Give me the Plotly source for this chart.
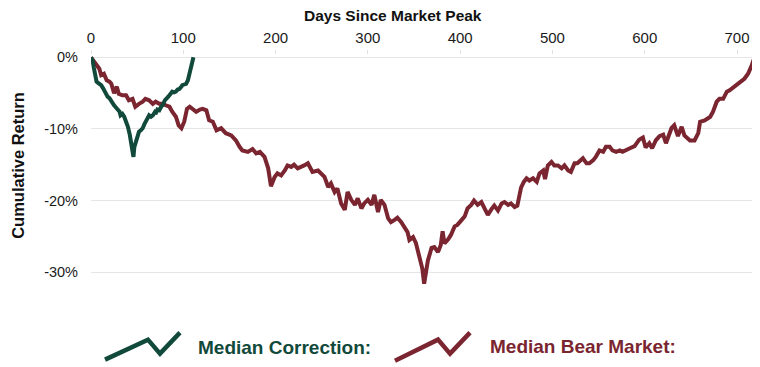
import plotly.graph_objects as go

# ---- data (cumulative return, %) ----
corr_days = [0, 2, 3, 5, 6, 8, 11, 13, 14, 16, 18, 20, 22, 24, 25, 27, 29, 31, 32, 34, 36, 38, 40, 42, 43, 45, 46,
             47, 49, 51, 52, 54, 56, 58, 59, 61, 63, 65, 67, 69, 70, 72, 74, 76, 78, 80, 81, 83, 85, 87, 88, 90, 92,
             94, 96, 98, 99, 101, 103, 105, 106, 108, 109, 110, 111]
corr_vals = [0, -0.6, -1.4, -2.6, -3.4, -3.6, -3.9, -4.3, -4.6, -5.0, -5.5, -5.7, -6.2, -6.4, -6.7, -7.0, -7.4, -7.6,
             -8.1, -7.9, -8.3, -9.0, -9.7, -10.8, -11.6, -13.2, -13.9, -12.5, -11.6, -10.8, -10.4, -10.2, -9.9, -9.3,
             -9.0, -8.4, -8.1, -8.3, -8.1, -7.7, -7.9, -7.3, -7.4, -6.9, -6.6, -6.0, -5.8, -5.6, -5.3, -5.0, -4.8,
             -4.9, -4.8, -4.5, -4.4, -4.1, -3.9, -3.8, -3.7, -3.2, -2.7, -1.8, -1.3, -0.6, 0]

bear_days = [0, 2, 5, 9, 11, 14, 17, 20, 22, 25, 28, 30, 34, 38, 41, 45, 48, 52, 56, 59, 63, 67, 70, 74, 78, 81, 85,
             88, 92, 95, 98, 101, 104, 107, 111, 114, 118, 121, 125, 128, 132, 136, 141, 146, 152, 157, 161, 164,
             170, 175, 179, 183, 188, 192, 195, 199, 202, 206, 210, 213, 217, 220, 224, 228, 231, 235, 240, 246,
             249, 253, 257, 260, 264, 267, 271, 275, 278, 282, 286, 289, 293, 296, 300, 304, 307, 311, 314, 318,
             322, 325, 329, 332, 336, 340, 343, 345, 349, 352, 356, 359, 361, 363, 365, 369, 372, 376, 379, 381,
             383, 387, 390, 394, 397, 401, 405, 408, 412, 415, 419, 423, 426, 430, 434, 437, 441, 445, 448, 452,
             455, 459, 462, 464, 466, 469, 472, 475, 479, 483, 486, 490, 492, 495, 499, 502, 506, 510, 513, 517,
             520, 524, 527, 533, 537, 540, 544, 547, 551, 555, 558, 562, 565, 569, 573, 576, 580, 584, 589, 594,
             598, 601, 605, 608, 612, 616, 620, 623, 629, 632, 636, 640, 643, 649, 654, 658, 660, 665, 671, 674,
             678, 681, 685, 689, 692, 698, 703, 708, 712, 716, 719]
bear_vals = [0, -0.3, -0.9, -1.6, -2.5, -2.3, -3.2, -3.4, -3.7, -5.0, -4.1, -5.1, -5.3, -5.3, -6.0, -5.8, -6.9, -6.5,
             -6.2, -5.8, -6.0, -6.5, -6.2, -6.5, -6.5, -6.7, -6.9, -7.6, -8.3, -9.5, -9.9, -9.0, -7.2, -6.9, -7.4,
             -7.6, -7.3, -7.2, -7.4, -8.8, -9.0, -10.2, -9.9, -10.6, -10.9, -11.6, -12.5, -13.0, -13.2, -12.8,
             -13.4, -13.2, -13.9, -15.5, -18.0, -16.7, -16.2, -16.5, -15.8, -15.1, -15.3, -15.0, -15.5, -15.3,
             -15.1, -14.8, -16.0, -15.8, -16.2, -16.7, -18.1, -17.6, -18.8, -18.3, -20.4, -21.3, -18.8, -19.9,
             -20.6, -19.7, -21.1, -20.4, -19.9, -20.6, -19.2, -21.6, -19.9, -20.6, -22.5, -23.0, -22.7, -22.4,
             -23.0, -23.9, -24.4, -25.5, -25.1, -25.9, -28.0, -29.5, -31.6, -30.0, -28.4, -26.6, -26.5, -27.2,
             -26.2, -24.3, -26.0, -25.4, -24.8, -23.6, -23.4, -22.8, -22.2, -21.1, -20.6, -20.0, -20.6, -20.2,
             -21.0, -22.0, -21.2, -20.7, -21.4, -20.4, -20.2, -20.6, -20.4, -20.9, -20.7, -19.5, -18.2, -17.4,
             -16.9, -17.2, -16.9, -17.4, -16.2, -15.8, -17.0, -15.1, -14.6, -15.1, -15.1, -15.5, -15.1, -15.8,
             -16.0, -14.8, -14.8, -14.1, -14.8, -14.8, -14.4, -13.9, -13.0, -13.2, -12.5, -12.5, -13.0, -13.2,
             -13.0, -13.2, -13.0, -12.7, -12.4, -11.5, -11.2, -12.6, -12.0, -12.7, -11.6, -11.0, -10.8, -12.0,
             -9.9, -9.5, -11.0, -9.7, -10.9, -11.6, -11.6, -10.6, -9.0, -8.8, -8.3, -7.6, -6.2, -5.8, -5.8, -4.8,
             -4.6, -3.9, -3.5, -3.0, -2.3, -1.1, 0.0]

x_ticks = [0, 100, 200, 300, 400, 500, 600, 700]
y_ticks = [0, -10, -20, -30]
y_tick_labels = ["0%", "-10%", "-20%", "-30%"]

GREEN = "#11493a"
MAROON = "#7a2530"

W, H = 760, 367
OFF = 8  # page body margin: figure is drawn 8px right/down of the window corner
# plot area in window pixels: left 91, right 755, top 55, bottom 308.3
ML, MT = 91 - OFF, 55 - OFF
MR = W - (755 - OFF)
MB = H - (308.3 - OFF)
PW, PH = W - ML - MR, H - MT - MB


def px(x, y):
    """window pixel -> paper coordinates"""
    x, y = x - OFF, y - OFF
    return (x - ML) / PW, (H - MB - y) / PH


fig = go.Figure()
fig.add_trace(go.Scatter(x=bear_days, y=bear_vals, mode="lines",
                         line=dict(color=MAROON, width=4), name="Median Bear Market:"))
fig.add_trace(go.Scatter(x=corr_days, y=corr_vals, mode="lines",
                         line=dict(color=GREEN, width=4), name="Median Correction:"))

font_family = "Liberation Sans, Arial, sans-serif"

fig.update_layout(
    width=W, height=H, margin=dict(l=ML, r=MR, t=MT, b=MB),
    plot_bgcolor="white", paper_bgcolor="white", showlegend=False,
    font=dict(family=font_family, size=15, color="#1a1a1a"),
    xaxis=dict(side="top", range=[0, 719.5], tickvals=x_ticks, showgrid=False, zeroline=False,
               ticks="outside", ticklen=4, tickcolor="#e0e0e0", showline=False, automargin=False,
               tickfont=dict(size=15), ticklabelstandoff=1),
    yaxis=dict(range=[-35, 0.32], tickvals=y_ticks, ticktext=y_tick_labels, showgrid=True,
               gridcolor="#e6e6e6", gridwidth=1, zeroline=False, showline=False, automargin=False,
               tickfont=dict(size=14.5), ticklabelstandoff=12),
)

# titles
tx, ty = px(393, 15)
fig.add_annotation(x=tx, y=ty, xref="paper", yref="paper", xanchor="center", yanchor="middle",
                   text="<b>Days Since Market Peak</b>",
                   showarrow=False, font=dict(size=15.5, color="#111", family=font_family))
yx, yy = px(18, 166)
fig.add_annotation(x=yx, y=yy, xref="paper", yref="paper", xanchor="center", yanchor="middle",
                   text="<b>Cumulative Return</b>",
                   showarrow=False, textangle=-90, font=dict(size=16.5, color="#111", family=font_family))


# legend (custom zigzag icons)
def zig(points, color):
    pts = [px(a, b) for a, b in points]
    path = "M " + " L ".join(f"{a:.4f},{b:.4f}" for a, b in pts)
    fig.add_shape(type="path", path=path, xref="paper", yref="paper",
                  line=dict(color=color, width=4.5))


zig([(105, 360), (148, 340), (160, 354), (180, 333)], GREEN)
zig([(395, 361), (438, 340), (450, 354), (470, 333)], MAROON)

lx, ly = px(196, 348)
fig.add_annotation(x=lx, y=ly, xref="paper", yref="paper", xanchor="left", yanchor="middle",
                   text="<b>Median Correction:</b>",
                   showarrow=False, font=dict(size=19, color=GREEN, family=font_family))
lx, ly = px(488, 347)
fig.add_annotation(x=lx, y=ly, xref="paper", yref="paper", xanchor="left", yanchor="middle",
                   text="<b>Median Bear Market:</b>",
                   showarrow=False, font=dict(size=19, color=MAROON, family=font_family))

fig.write_html("out.html")
